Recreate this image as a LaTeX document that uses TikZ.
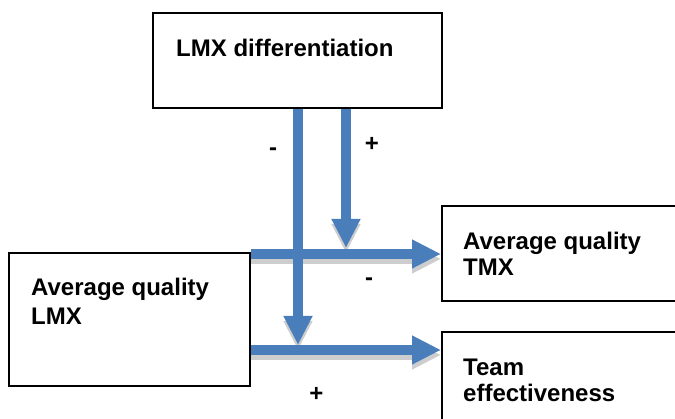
\documentclass[tikz,border=0pt]{standalone}
\usepackage{fontspec}
\setmainfont{Liberation Sans}
\usetikzlibrary{arrows.meta}
\definecolor{arrowblue}{RGB}{74,126,187}
\definecolor{shadowgray}{RGB}{205,205,205}
\begin{document}
\begin{tikzpicture}[x=1pt,y=-1pt,
  box/.style={draw=black, line width=2pt, rectangle, inner sep=0pt},
  lbl/.style={font=\fontsize{24}{26.5}\selectfont\bfseries, inner sep=0pt, align=left},
  sign/.style={font=\fontsize{24}{27}\selectfont\bfseries, inner sep=0pt, anchor=base},
  bigarrow/.style={draw=arrowblue, line width=10pt, -{Triangle[width=27pt,length=29pt]}},
  shadowarrow/.style={draw=shadowgray, line width=10pt, -{Triangle[width=27pt,length=29pt]}, transform canvas={shift={(0pt,-5pt)}}}]
\useasboundingbox (0,0) rectangle (675,419);
\clip (0,0) rectangle (675,419);
\fill[white] (0,0) rectangle (675,419);
% boxes
\node[box, minimum width=289pt, minimum height=95pt] (diff) at (297.5,60.5) {};
\node[box, minimum width=241pt, minimum height=133pt] (lmx) at (129.5,319.5) {};
\node[box, minimum width=260pt, minimum height=95pt] (tmx) at (572,253.5) {};
\node[box, minimum width=260pt, minimum height=110pt] (team) at (572,387) {};
% texts (base anchor = baseline of last line)
\node[lbl, anchor=base west] (tdiff) at (176,57) {LMX differentiation};
\node[lbl, anchor=base west, font=\fontsize{24}{29.5}\selectfont\bfseries] (tlmx) at (31,325) {Average quality\\LMX};
\node[lbl, anchor=base west] (ttmx) at (463,276) {Average quality\\TMX};
\node[lbl, anchor=base west] (tteam) at (463,402) {Team\\effectiveness};
% moderation end points
\coordinate (m1) at (346,248);
\coordinate (m2) at (298,345);
% shadows
\draw[shadowarrow] (lmx.east |- 0,254) -- (tmx.west |- 0,254);
\draw[shadowarrow] (lmx.east |- 0,350) -- (team.west |- 0,350);
\draw[shadowarrow] (diff.south -| m1) -- (m1);
\draw[shadowarrow] (diff.south -| m2) -- (m2);
% arrows
\draw[bigarrow] (lmx.east |- 0,254) -- (tmx.west |- 0,254);
\draw[bigarrow] (lmx.east |- 0,350) -- (team.west |- 0,350);
\draw[bigarrow] (diff.south -| m1) -- (m1);
\draw[bigarrow] (diff.south -| m2) -- (m2);
% signs
\node[sign] (s1) at (273,156) {-};
\node[sign] (s2) at (372,152) {+};
\node[sign] (s3) at (369,286) {-};
\node[sign] (s4) at (316.5,402) {+};
\end{tikzpicture}
\end{document}
